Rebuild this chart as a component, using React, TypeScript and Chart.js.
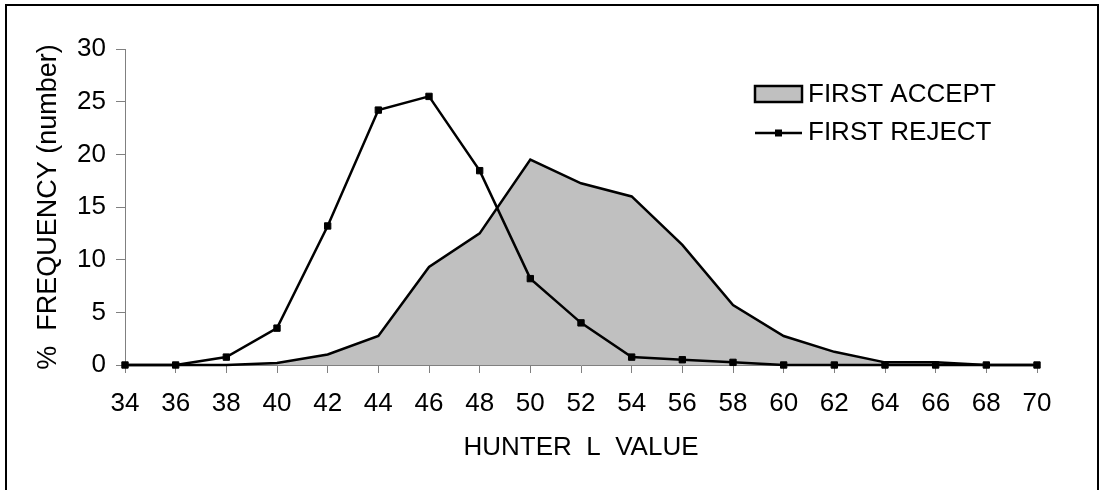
import React, { useEffect, useRef } from "react";
import { Chart, registerables } from "chart.js";

Chart.register(...registerables);

const hunterL = [34, 36, 38, 40, 42, 44, 46, 48, 50, 52, 54, 56, 58, 60, 62, 64, 66, 68, 70];
const firstAccept = [0, 0, 0, 0.2, 1.0, 2.75, 9.3, 12.5, 19.5, 17.25, 16.0, 11.4, 5.7, 2.75, 1.25, 0.25, 0.25, 0, 0];
const firstReject = [0, 0, 0.75, 3.5, 13.2, 24.2, 25.5, 18.45, 8.2, 4.0, 0.75, 0.5, 0.25, 0, 0, 0, 0, 0, 0];
const yTickValues = [0, 5, 10, 15, 20, 25, 30];
const seriesNames = ["FIRST ACCEPT", "FIRST REJECT"];
const xTitle = "HUNTER  L  VALUE";
const yTitle = "%  FREQUENCY (number)";

const FONT = "Arial, 'Liberation Sans', sans-serif";
const FS = 26;

const legendPlugin = {
  id: "customLegend",
  afterDraw(chart: any) {
    const { ctx, chartArea } = chart;
    const x0 = chartArea.right - 282;
    const y0 = chartArea.top + 45;
    const rowGap = 39;
    ctx.save();
    ctx.font = `${FS}px ${FONT}`;
    ctx.textBaseline = "middle";
    // row 1: area box
    ctx.fillStyle = "#c0c0c0";
    ctx.fillRect(x0, y0 - 8, 47, 16);
    ctx.strokeStyle = "#000";
    ctx.lineWidth = 2.5;
    ctx.strokeRect(x0, y0 - 8, 47, 16);
    ctx.fillStyle = "#000";
    ctx.fillText(chart.data.datasets[1].label, x0 + 53, y0 + 1);
    // row 2: line with marker
    const y1 = y0 + rowGap;
    ctx.beginPath();
    ctx.moveTo(x0, y1);
    ctx.lineTo(x0 + 47, y1);
    ctx.stroke();
    ctx.fillRect(x0 + 20, y1 - 3.5, 7, 7);
    ctx.fillText(chart.data.datasets[0].label, x0 + 53, y1);
    ctx.restore();
  },
};

export default function App() {
  const ref = useRef<HTMLCanvasElement>(null);

  useEffect(() => {
    if (!ref.current) return;
    const chart = new Chart(ref.current, {
      type: "line",
      data: {
        datasets: [
          {
            label: seriesNames[1],
            data: hunterL.map((x, i) => ({ x, y: firstReject[i] })),
            borderColor: "#000",
            borderWidth: 2.5,
            backgroundColor: "#000",
            pointStyle: "rect",
            pointRadius: 4.5,
            pointBorderWidth: 1,
            pointBackgroundColor: "#000",
            pointBorderColor: "#000",
            fill: false,
            tension: 0,
            clip: false,
            order: 0,
          },
          {
            label: seriesNames[0],
            data: hunterL.map((x, i) => ({ x, y: firstAccept[i] })),
            borderColor: "#000",
            borderWidth: 2.5,
            backgroundColor: "#c0c0c0",
            pointRadius: 0,
            fill: "origin",
            tension: 0,
            clip: false,
            order: 1,
          },
        ],
      },
      options: {
        responsive: false,
        animation: false,
        layout: { padding: { top: 49, right: 63, left: 0, bottom: 0 } },
        plugins: {
          legend: { display: false },
          tooltip: { enabled: false },
        },
        scales: {
          x: {
            type: "linear",
            min: hunterL[0],
            max: hunterL[hunterL.length - 1],
            afterFit: (s: any) => {
              s.height = 125;
            },
            afterBuildTicks: (s: any) => {
              s.ticks = hunterL.map((v) => ({ value: v }));
            },
            ticks: {
              color: "#000",
              font: { family: FONT, size: FS },
              padding: 15,
              maxRotation: 0,
              autoSkip: false,
            },
            grid: {
              display: true,
              drawOnChartArea: false,
              drawTicks: true,
              tickLength: 8,
              color: "#808080",
            },
            border: { display: true, color: "#808080", width: 1 },
            title: {
              display: true,
              text: xTitle,
              color: "#000",
              font: { family: FONT, size: FS },
              padding: { top: 0, bottom: 27 },
            },
          },
          y: {
            type: "linear",
            min: 0,
            max: 30,
            afterFit: (s: any) => {
              s.width = 125;
            },
            afterBuildTicks: (s: any) => {
              s.ticks = yTickValues.map((v) => ({ value: v }));
            },
            ticks: {
              color: "#000",
              font: { family: FONT, size: FS },
              padding: 10,
            },
            grid: {
              display: true,
              drawOnChartArea: false,
              drawTicks: true,
              tickLength: 9,
              color: "#808080",
            },
            border: { display: true, color: "#808080", width: 1 },
            title: {
              display: true,
              text: yTitle,
              color: "#000",
              font: { family: FONT, size: 27 },
              padding: { top: 32, bottom: 0 },
            },
          },
        },
      },
      plugins: [legendPlugin],
    } as any);
    return () => chart.destroy();
  }, []);

  return (
    <div style={{ position: "fixed", left: 0, top: 0, width: 1100, height: 490, background: "#fff", overflow: "hidden" }}>
      <div
        style={{
          position: "absolute",
          left: 5,
          top: 4,
          width: 1094,
          height: 520,
          boxSizing: "border-box",
          border: "2px solid #000",
        }}
      />
      <canvas ref={ref} width={1100} height={490} style={{ position: "absolute", left: 0, top: 0 }} />
    </div>
  );
}
